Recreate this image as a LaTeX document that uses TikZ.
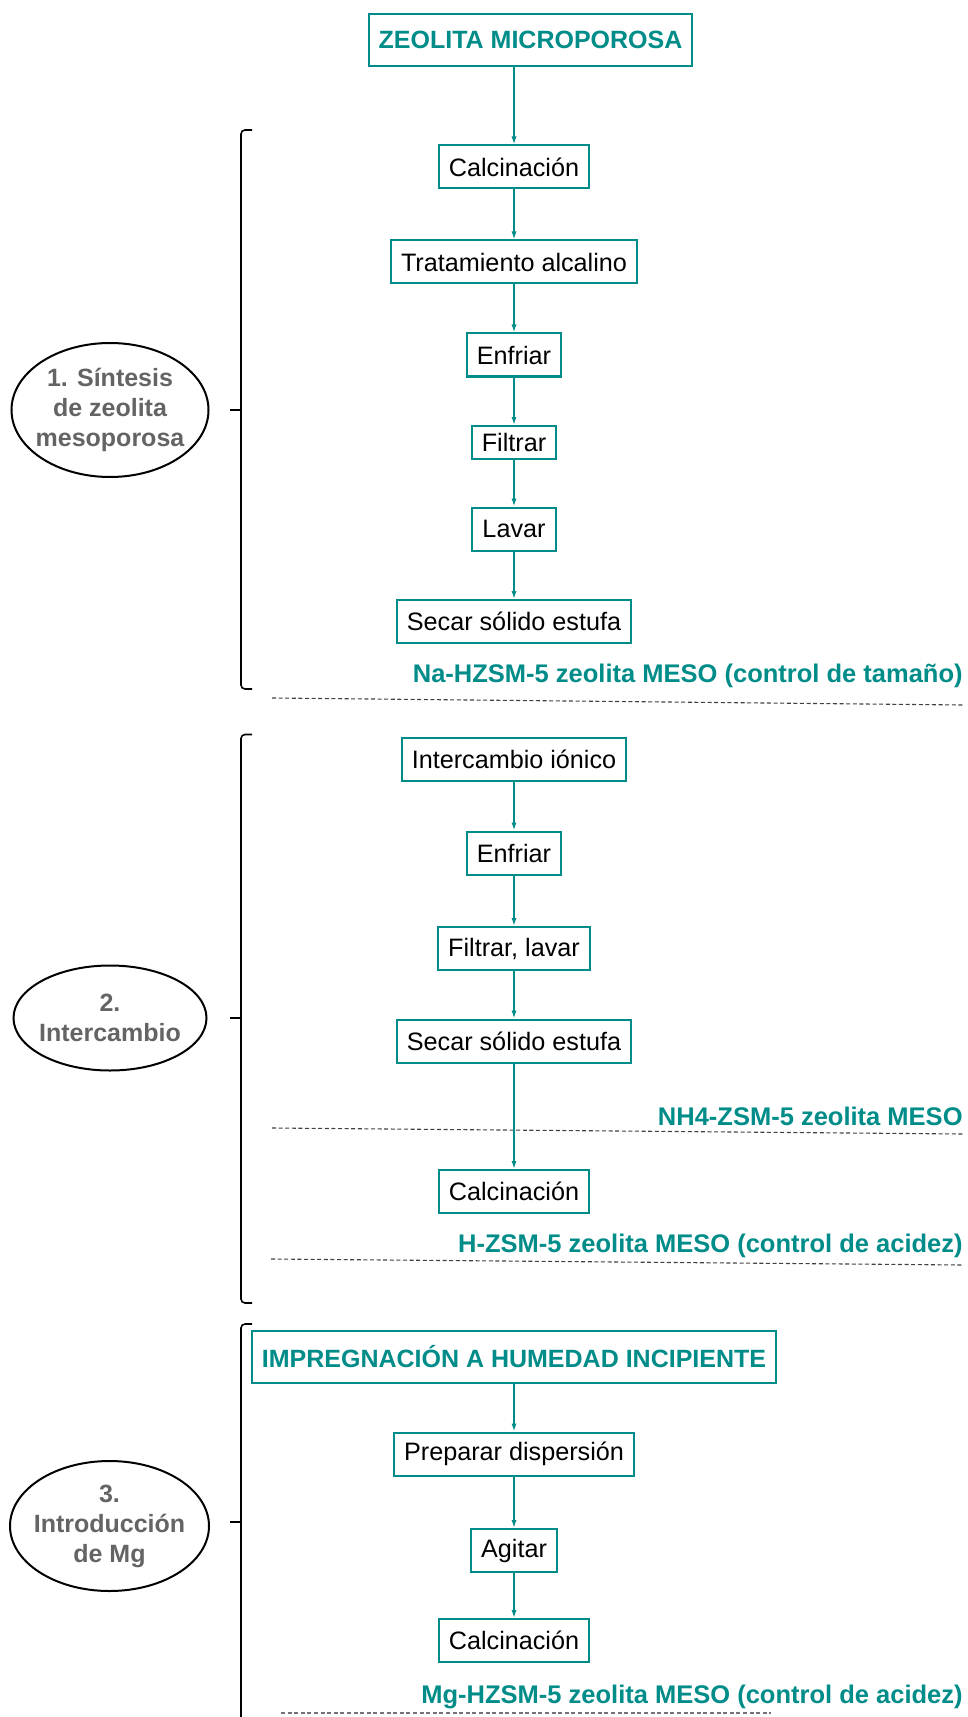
\documentclass[tikz,border=0pt]{standalone}
\usepackage{fontspec}
\setmainfont{Liberation Sans}
\usetikzlibrary{arrows.meta, shapes.geometric, positioning}
\definecolor{zteal}{RGB}{0,140,136}
\definecolor{zgray}{RGB}{100,100,100}
\tikzset{
  stepbox/.style={draw=zteal, line width=1pt, fill=white, inner xsep=5pt, minimum height=21.5pt, font=\fontsize{12.6}{14}\selectfont},
  headbox/.style={stepbox, text=zteal, minimum height=26pt, font=\fontsize{12.5}{15}\selectfont\bfseries},
  phase/.style={draw, ellipse, line width=1pt, inner sep=-4pt, align=center, text=zgray, font=\fontsize{12.5}{15}\selectfont\bfseries},
  product/.style={anchor=east, inner sep=0pt, text=zteal, font=\fontsize{12.75}{15}\selectfont\bfseries},
  flow/.style={draw=zteal, line width=0.75pt, -{Latex[length=4pt,width=2.6pt]}},
  brace/.style={line width=0.8pt, rounded corners=2pt},
  sep/.style={dash pattern=on 2pt off 1.3pt, line width=0.55pt, draw=black!75}
}

\begin{document}
\begin{tikzpicture}[x=0.5pt, y=-0.5pt]
  \useasboundingbox (0,0) rectangle (968,1717);

  \node[headbox] (zeo) at (530.5,40) {ZEOLITA MICROPOROSA};
  \node[stepbox] (cal1) at (514,167) {Calcinación};
  \node[stepbox] (trat) at (514,262) {Tratamiento alcalino};
  \node[stepbox] (enf1) at (514,355) {Enfriar};
  \node[stepbox, minimum height=16.5pt] (fil1) at (514,442.5) {Filtrar};
  \node[stepbox] (lav1) at (514,529) {Lavar};
  \node[stepbox] (sec1) at (514,621.5) {Secar sólido estufa};
  \node[product] (na) at (963,676) {Na-HZSM-5 zeolita MESO (control de tamaño)};

  \node[stepbox] (int) at (514,759) {Intercambio iónico};
  \node[stepbox] (enf2) at (514,853) {Enfriar};
  \node[stepbox] (fil2) at (514,948.5) {Filtrar, lavar};
  \node[stepbox] (sec2) at (514,1041) {Secar sólido estufa};
  \node[product] (nh) at (963,1116) {NH4-ZSM-5 zeolita MESO};
  \node[stepbox] (cal2) at (514,1191.5) {Calcinación};
  \node[product] (hz) at (963,1245.5) {H-ZSM-5 zeolita MESO (control de acidez)};

  \node[headbox] (imp) at (514,1357) {IMPREGNACIÓN A HUMEDAD INCIPIENTE};
  \node[stepbox] (prep) at (514,1454) {Preparar dispersión};
  \node[stepbox] (agi) at (514,1550.5) {Agitar};
  \node[stepbox] (cal3) at (514,1640.5) {Calcinación};
  \node[product] (mg) at (963,1697) {Mg-HZSM-5 zeolita MESO (control de acidez)};

  \node[phase, minimum width=98.5pt, minimum height=67pt] (ph1) at (110,410) {1. Síntesis\\de zeolita\\mesoporosa};
  \node[phase, minimum width=96.5pt, minimum height=52.5pt] (ph2) at (110,1018) {2.\\Intercambio};
  \node[phase, minimum width=99.5pt, minimum height=65pt] (ph3) at (109.5,1526) {3.\\Introducción\\de Mg};

  \draw[sep] (272,698) -- (963,705);
  \draw[sep] (272,1128) -- (963,1134);
  \draw[sep] (271,1259) -- (963,1265);
  \draw[sep, draw=black!55] (281,1713) -- (771,1713);

  \draw[flow] (zeo.south -| cal1.north) -- (cal1.north);
  \draw[flow] (cal1) -- (trat);
  \draw[flow] (trat) -- (enf1);
  \draw[flow] (enf1) -- (fil1);
  \draw[flow] (fil1) -- (lav1);
  \draw[flow] (lav1) -- (sec1);
  \draw[flow] (int) -- (enf2);
  \draw[flow] (enf2) -- (fil2);
  \draw[flow] (fil2) -- (sec2);
  \draw[flow] (sec2) -- (cal2);
  \draw[flow] (imp) -- (prep);
  \draw[flow] (prep) -- (agi);
  \draw[flow] (agi) -- (cal3);

  \draw[brace] (252,130) -- (241,130) -- (241,689) -- (252,689);
  \draw[brace] (241,410) -- (230,410);
  \draw[brace] (252,734.5) -- (241,734.5) -- (241,1303) -- (252,1303);
  \draw[brace] (241,1018) -- (230,1018);
  \draw[brace] (252,1324) -- (241,1324) -- (241,1717);
  \draw[brace] (241,1522) -- (230,1522);
\end{tikzpicture}
\end{document}
